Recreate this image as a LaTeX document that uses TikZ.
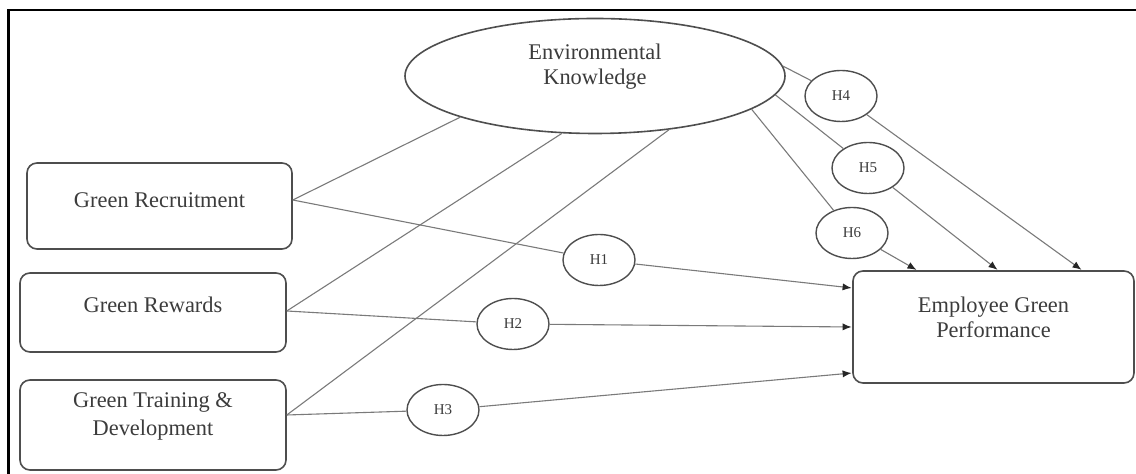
\documentclass[tikz,border=0pt]{standalone}
\usepackage{fontspec}
\setmainfont{Liberation Serif}
\usetikzlibrary{shapes.geometric,arrows.meta}
\definecolor{textgrey}{HTML}{3C3C3C}
\definecolor{boxgrey}{HTML}{4E4E4E}
\definecolor{linegrey}{HTML}{7A7A7A}
\newcommand\liftup[2]{\raisebox{#1}[\height][\depth]{#2}}
\begin{document}
\begin{tikzpicture}[x=0.5pt,y=-0.5pt,
  conn/.style={draw=linegrey, line width=0.55pt},
  arr/.style={conn, -{Latex[length=4.5pt,width=3.6pt,color=black!85]}, shorten >=0.3pt},
  txt/.style={text=textgrey, font=\fontsize{11.2}{12.5}\selectfont, align=center},
  box/.style={txt, draw=boxgrey, line width=0.8pt, rounded corners=5pt, fill=white, inner sep=0pt},
  latent/.style={txt, ellipse, draw=boxgrey, line width=0.8pt, fill=white, inner sep=0pt},
  hyp/.style={ellipse, draw=boxgrey, line width=0.7pt, fill=white, minimum width=36pt,
    minimum height=25.5pt, inner sep=0pt, text=textgrey, font=\fontsize{7.5}{8}\selectfont}]
\useasboundingbox (0,0) rectangle (1136,474);
\draw[line width=1.3pt] (8.5,474) -- (8.5,10) -- (1136,10);

% constructs
\node[latent, minimum width=190pt, minimum height=57.5pt] (ek) at (595,76)
  {\liftup{4.25pt}{\begin{tabular}{@{}c@{}}Environmental\\Knowledge\end{tabular}}};
\node[box, minimum width=132.5pt, minimum height=43pt] (gr) at (159.5,206)
  {\liftup{3pt}{Green Recruitment}};
\node[box, minimum width=133pt, minimum height=39.5pt] (grw) at (153,312.5)
  {\liftup{3.75pt}{Green Rewards}};
\node[box, minimum width=133pt, minimum height=45pt] (gtd) at (153,425)
  {\liftup{4pt}{\begin{tabular}{@{}c@{}}Green Training \&\\[1.5pt]Development\end{tabular}}};
\node[box, minimum width=140.5pt, minimum height=56pt] (egp) at (993.5,327)
  {\liftup{3.25pt}{\begin{tabular}{@{}c@{}}Employee Green\\Performance\end{tabular}}};

% hypothesis labels
\node[hyp] (h1) at (599,260) {H1};
\node[hyp] (h2) at (513,324) {H2};
\node[hyp] (h3) at (443,410) {H3};
\node[hyp] (h4) at (841,96) {H4};
\node[hyp] (h5) at (868,168) {H5};
\node[hyp] (h6) at (852,233) {H6};

% anchors on the boxes
\coordinate (grA) at ([yshift=3pt]gr.east);
\coordinate (grwA) at ([yshift=0.75pt]grw.east);
\coordinate (gtdA) at ([yshift=5pt]gtd.east);

% IV -> moderator
\draw[conn] (grA) -- (ek.197.5);
\draw[conn] (grwA) -- (ek.240.7);
\draw[conn] (gtdA) -- (ek.324.2);

% direct paths
\draw[conn] (grA) -- (h1);
\draw[arr] (h1) -- ([yshift=19.5pt]egp.west);
\draw[conn] (grwA) -- (h2);
\draw[arr] (h2) -- (egp.west);
\draw[conn] (gtdA) -- (h3);
\draw[arr] (h3) -- ([yshift=-23pt]egp.west);

% moderator paths
\draw[conn] (ek.3.3) -- (h4);
\draw[arr] (h4) -- ([xshift=44.25pt]egp.north);
\draw[conn] (ek.354.7) -- (h5);
\draw[arr] (h5) -- ([xshift=2.25pt]egp.north);
\draw[conn] (ek.348.7) -- (h6);
\draw[arr] (h6) -- ([xshift=-38.25pt]egp.north);
\end{tikzpicture}
\end{document}
